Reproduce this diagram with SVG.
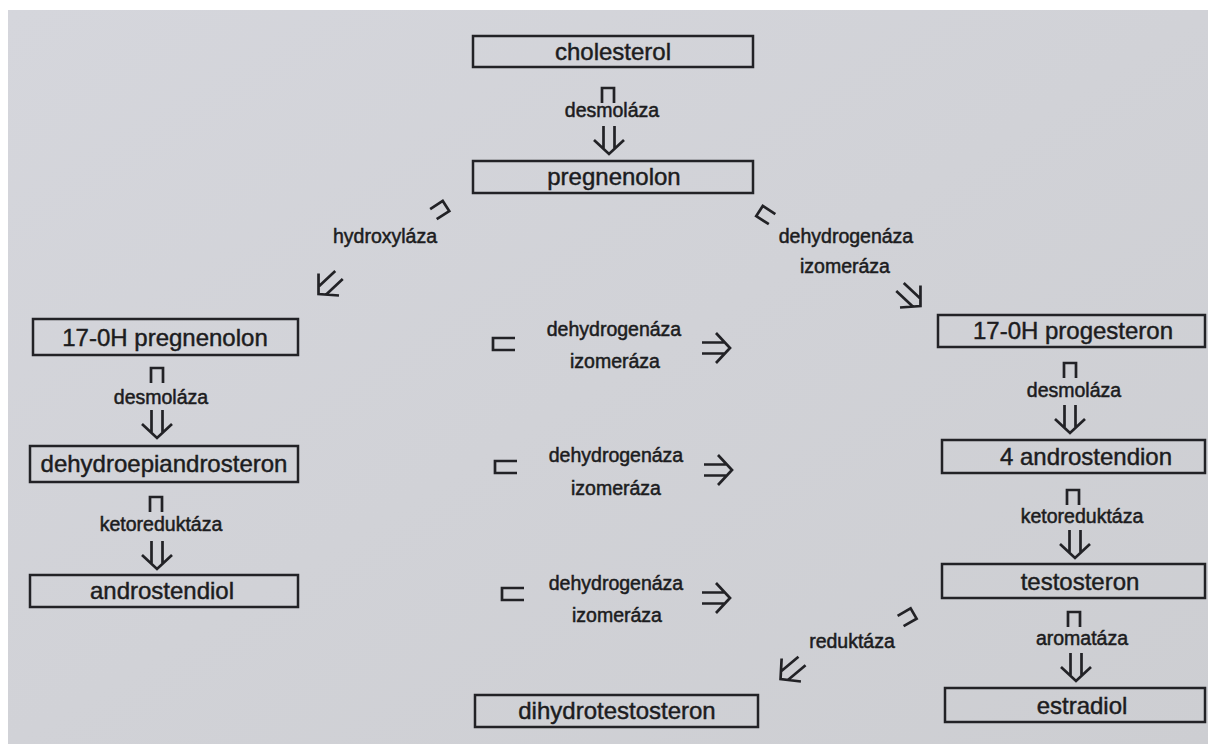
<svg xmlns="http://www.w3.org/2000/svg" xmlns:xlink="http://www.w3.org/1999/xlink" width="1208" height="744" viewBox="0 0 1208 744">
<style>
.box{fill:none;stroke:#222226;stroke-width:2.5}
.lbl{font-family:"Liberation Sans",Arial,sans-serif;font-size:24px;text-anchor:middle;fill:#1c1c20;stroke:#1c1c20;stroke-width:0.45}
.enz{font-family:"Liberation Sans",Arial,sans-serif;font-size:19.5px;text-anchor:middle;fill:#1c1c20;stroke:#1c1c20;stroke-width:0.5}
.ink{fill:none;stroke:#222226;stroke-width:2.7;stroke-linejoin:miter;stroke-linecap:butt}
</style>
<defs>
<linearGradient id="paper" x1="0" y1="0" x2="1" y2="1">
<stop offset="0" stop-color="#d5d6dc"/>
<stop offset="1" stop-color="#cdced2"/>
</linearGradient>
<path id="cap" class="ink" d="M-6,15 V0 H6 V15"/>
<path id="capL" class="ink" d="M-6,22 V0 H6 V22"/>
<path id="arr" class="ink" d="M-5.5,0 V23 M5.5,0 V23 M-15,14 L0,28 L15,14"/>
</defs>
<rect width="1208" height="744" fill="#ffffff"/>
<rect x="8" y="10" width="1200" height="734" fill="url(#paper)"/>

<g id="connectors">
<use xlink:href="#cap" transform="translate(608,88)"/>
<use xlink:href="#arr" transform="translate(609,126)"/>
<text class="enz" x="612" y="117">desmoláza</text>

<use xlink:href="#cap" transform="translate(446,206) rotate(57)"/>
<use xlink:href="#arr" transform="translate(339,275) rotate(47)"/>
<text class="enz" x="385" y="243">hydroxyláza</text>

<use xlink:href="#cap" transform="translate(759.5,211) rotate(-57)"/>
<use xlink:href="#arr" transform="translate(900,287) rotate(-47)"/>
<text class="enz" x="846" y="243">dehydrogenáza</text>
<text class="enz" x="845" y="273">izomeráza</text>

<use xlink:href="#cap" transform="translate(157,368)"/>
<use xlink:href="#arr" transform="translate(157,410)"/>
<text class="enz" x="161" y="404">desmoláza</text>
<use xlink:href="#cap" transform="translate(156,497)"/>
<use xlink:href="#arr" transform="translate(157,541)"/>
<text class="enz" x="161" y="531">ketoreduktáza</text>

<use xlink:href="#cap" transform="translate(1070,363)"/>
<use xlink:href="#arr" transform="translate(1070,405)"/>
<text class="enz" x="1074" y="397">desmoláza</text>
<use xlink:href="#cap" transform="translate(1073,490)"/>
<use xlink:href="#arr" transform="translate(1075,530)"/>
<text class="enz" x="1082" y="523">ketoreduktáza</text>
<use xlink:href="#cap" transform="translate(1074,612)"/>
<use xlink:href="#arr" transform="translate(1076,653)"/>
<text class="enz" x="1082" y="645">aromatáza</text>

<use xlink:href="#capL" transform="translate(493,344) rotate(-90)"/>
<use xlink:href="#arr" transform="translate(702,348) rotate(-90)"/>
<text class="enz" x="614" y="336">dehydrogenáza</text>
<text class="enz" x="615" y="368">izomeráza</text>

<use xlink:href="#capL" transform="translate(495,467) rotate(-90)"/>
<use xlink:href="#arr" transform="translate(704,470) rotate(-90)"/>
<text class="enz" x="616" y="462">dehydrogenáza</text>
<text class="enz" x="616" y="495">izomeráza</text>

<use xlink:href="#capL" transform="translate(502,594) rotate(-90)"/>
<use xlink:href="#arr" transform="translate(702,598) rotate(-90)"/>
<text class="enz" x="616" y="590">dehydrogenáza</text>
<text class="enz" x="617" y="622">izomeráza</text>

<use xlink:href="#cap" transform="translate(913.6,613.5) rotate(60)"/>
<use xlink:href="#arr" transform="translate(802,661) rotate(50)"/>
<text class="enz" x="852" y="648">reduktáza</text>
</g>

<g id="cholesterol"><rect class="box" x="473" y="36" width="280" height="31"/><text class="lbl" x="613" y="60">cholesterol</text></g>
<g id="pregnenolon"><rect class="box" x="473" y="161" width="280" height="32"/><text class="lbl" x="614" y="185">pregnenolon</text></g>
<g id="oh-pregnenolon"><rect class="box" x="33" y="319" width="265" height="36"/><text class="lbl" x="165" y="346">17-0H pregnenolon</text></g>
<g id="dhea"><rect class="box" x="30" y="446" width="268" height="36"/><text class="lbl" x="164" y="472">dehydroepiandrosteron</text></g>
<g id="androstendiol"><rect class="box" x="30" y="575" width="268" height="32"/><text class="lbl" x="162" y="599">androstendiol</text></g>
<g id="oh-progesteron"><rect class="box" x="938" y="315" width="267" height="32"/><text class="lbl" x="1073" y="339">17-0H progesteron</text></g>
<g id="androstendion"><rect class="box" x="942" y="440" width="263" height="33"/><text class="lbl" x="1086" y="465">4 androstendion</text></g>
<g id="testosteron"><rect class="box" x="942" y="564" width="263" height="34"/><text class="lbl" x="1080" y="590">testosteron</text></g>
<g id="estradiol"><rect class="box" x="945" y="688" width="260" height="34"/><text class="lbl" x="1082" y="714">estradiol</text></g>
<g id="dihydrotestosteron"><rect class="box" x="475" y="695" width="283" height="32"/><text class="lbl" x="617" y="719">dihydrotestosteron</text></g>
</svg>
